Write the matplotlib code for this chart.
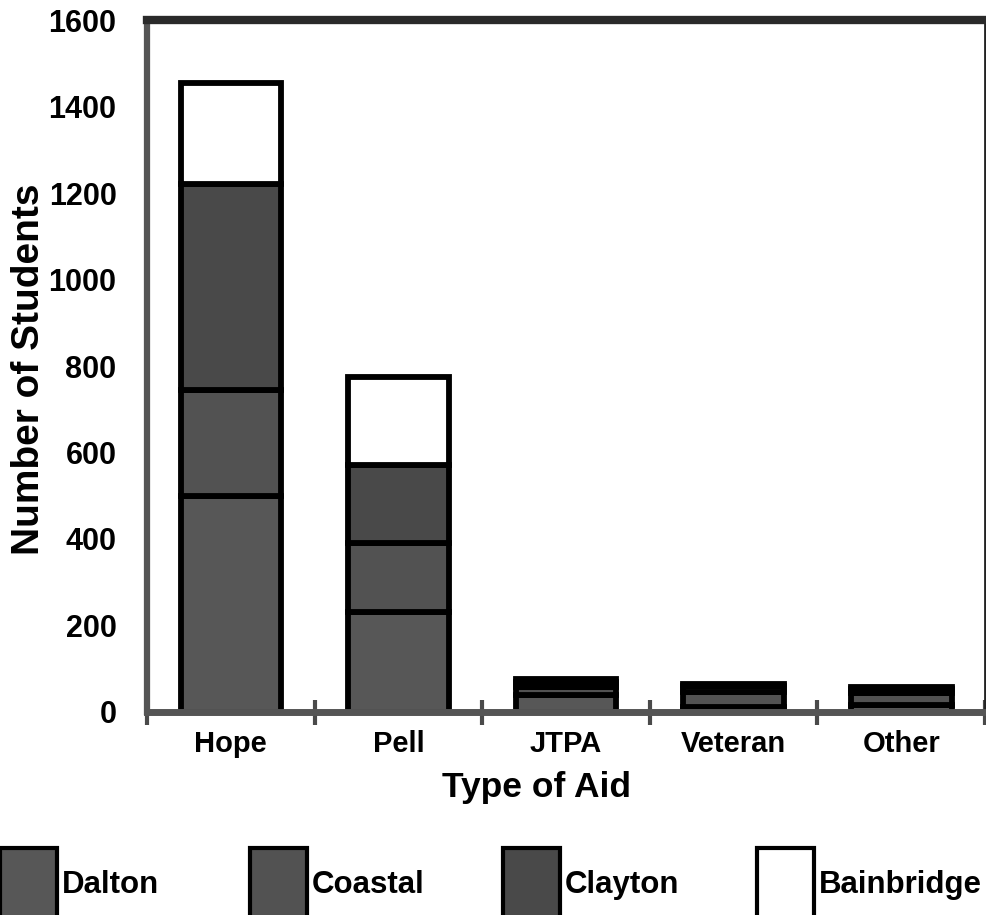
import matplotlib
matplotlib.use("Agg")
import matplotlib.pyplot as plt
import numpy as np
from matplotlib.patches import Rectangle

plt.rcParams['font.family'] = ['Liberation Sans', 'DejaVu Sans']
plt.rcParams['font.weight'] = 'bold'

categories = ["Hope", "Pell", "JTPA", "Veteran", "Other"]
dalton = [500, 230, 38, 12, 15]
coastal = [245, 160, 20, 35, 28]
clayton = [475, 180, 12, 12, 10]
bainbridge = [235, 205, 5, 6, 5]
series_names = ["Dalton", "Coastal", "Clayton", "Bainbridge"]
series_colors = ["#575757", "#525252", "#494949", "#ffffff"]
yticks = [0, 200, 400, 600, 800, 1000, 1200, 1400, 1600]

W, H = 987, 915
fig = plt.figure(figsize=(W / 100, H / 100), dpi=100)
ax = fig.add_axes([0.149, 0.222, 0.849, 0.756])

x = np.arange(len(categories))
bottom = np.zeros(len(categories))
for vals, col in zip([dalton, coastal, clayton, bainbridge], series_colors):
    ax.bar(x, vals, width=0.6, bottom=bottom, color=col, edgecolor="black",
           linewidth=4.2, zorder=3)
    bottom += np.array(vals)

ax.set_xlim(-0.5, 4.5)
ax.set_ylim(0, 1600)
ax.set_yticks(yticks)
ax.set_yticklabels([str(v) for v in yticks], fontsize=22, fontweight='bold')
ax.tick_params(axis='y', length=0, pad=22)
ax.set_xticks(x)
ax.set_xticklabels(categories, fontsize=21, fontweight='bold')
ax.set_xticks(np.arange(-0.5, 4.6, 1.0), minor=True)
ax.tick_params(axis='x', which='major', length=0, pad=13)
ax.tick_params(axis='x', which='minor', direction='inout', length=18, width=3,
               color="#4a4a4a")

ax.spines['left'].set_color("#555555")
ax.spines['left'].set_linewidth(4.5)
ax.spines['bottom'].set_color("#555555")
ax.spines['bottom'].set_linewidth(5)
ax.spines['top'].set_color("#2a2a2a")
ax.spines['top'].set_linewidth(6)
ax.spines['right'].set_color("#222222")
ax.spines['right'].set_linewidth(2)
ax.spines['bottom'].set_zorder(4)

ax.set_xlabel("Type of Aid", fontsize=25.5, fontweight='bold')
ax.xaxis.set_label_coords((536 - 147) / 838, -0.086)
ax.set_ylabel("Number of Students", fontsize=28, fontweight='bold')
ax.yaxis.set_label_coords(-0.12, 0.496)

# legend row along the bottom edge
legend_x = [0, 250, 503, 757]
for lx, name, col in zip(legend_x, series_names, series_colors):
    fig.add_artist(Rectangle((lx / W, -8 / H), 57 / W, 75 / H,
                             facecolor=col, edgecolor="black", linewidth=3,
                             transform=fig.transFigure))
    fig.text((lx + 62) / W, 22 / H, name, fontsize=22.5, fontweight='bold',
             ha='left', va='baseline')

fig.savefig("out.png", dpi=100, facecolor="white")
